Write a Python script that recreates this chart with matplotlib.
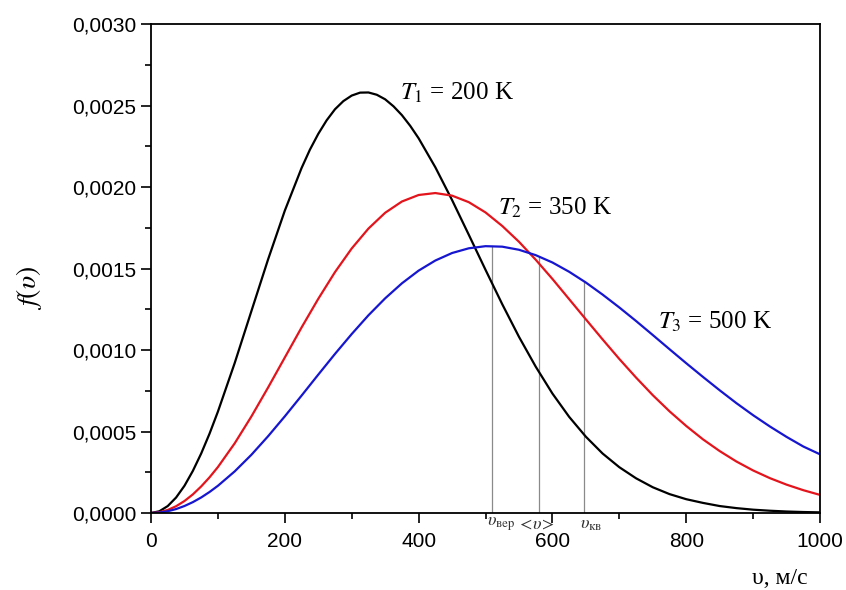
import numpy as np
import matplotlib
matplotlib.use('Agg')
import matplotlib.pyplot as plt
from matplotlib.ticker import FuncFormatter, MultipleLocator

plt.rcParams['font.family'] = ['Liberation Sans', 'DejaVu Sans']
plt.rcParams['mathtext.fontset'] = 'stix'

# speed, m/s (T2, T3 curves)
v = [0, 12.5, 25, 37.5, 50, 62.5, 75, 87.5, 100, 125, 150, 175, 200, 225, 250,
     275, 300, 325, 350, 375, 400, 425, 450, 475, 500, 525, 550, 575, 600,
     625, 650, 675, 700, 725, 750, 775, 800, 825, 850, 875, 900, 925, 950,
     975, 1000]

# speed, m/s (T1 curve, finer around the peak)
v_200 = [0, 12.5, 25, 37.5, 50, 62.5, 75, 87.5, 100, 125, 150, 175, 200, 225,
         237.5, 250, 262.5, 275, 287.5, 300, 312.5, 325, 337.5, 350, 362.5,
         375, 387.5, 400, 425, 450, 475, 500, 525, 550, 575, 600, 625, 650,
         675, 700, 725, 750, 775, 800, 825, 850, 875, 900, 925, 950, 975, 1000]

# f(v) for T1 = 200 K
f_200 = [0, 0.0000107, 0.0000426, 0.000095, 0.000167, 0.000258, 0.000365,
         0.000487, 0.000622, 0.000919, 0.001238, 0.001556, 0.001855, 0.002116,
         0.002229, 0.002326, 0.002409, 0.002477, 0.002527, 0.002561, 0.002579,
         0.002580, 0.002566, 0.002538, 0.002495, 0.002441, 0.002375, 0.002299,
         0.002121, 0.001920, 0.001707, 0.001492, 0.001281, 0.001081, 0.000898,
         0.000733, 0.000590, 0.000468, 0.000365, 0.000281, 0.000213, 0.000158,
         0.000116, 0.0000847, 0.000062, 0.0000427, 0.000030, 0.0000204,
         0.000014, 0.0000092, 0.000006, 0.000004]

# f(v) for T2 = 350 K
f_350 = [0, 0.0000047, 0.0000186, 0.0000416, 0.0000735, 0.000114, 0.000163,
         0.000219, 0.000282, 0.000427, 0.000592, 0.000770, 0.000954, 0.001138,
         0.001314, 0.001478, 0.001623, 0.001745, 0.001842, 0.001911, 0.001951,
         0.001963, 0.001947, 0.001907, 0.001844, 0.001761, 0.001664, 0.001554,
         0.001436, 0.001312, 0.001188, 0.001065, 0.000945, 0.000831, 0.000723,
         0.000624, 0.000534, 0.000452, 0.000380, 0.000316, 0.000261, 0.000214,
         0.000174, 0.000140, 0.000111]

# f(v) for T3 = 500 K
f_500 = [0, 0.0000027, 0.0000108, 0.0000242, 0.0000429, 0.0000666, 0.0000953,
         0.000129, 0.000167, 0.000255, 0.000357, 0.000471, 0.000593, 0.000720,
         0.000849, 0.000976, 0.001098, 0.001213, 0.001317, 0.001409, 0.001487,
         0.001549, 0.001595, 0.001624, 0.001637, 0.001634, 0.001615, 0.001582,
         0.001537, 0.001480, 0.001414, 0.001340, 0.001261, 0.001178, 0.001092,
         0.001005, 0.000919, 0.000835, 0.000753, 0.000674, 0.000600, 0.000531,
         0.000467, 0.000408, 0.000360]

# characteristic speeds for T3 (most probable, mean, rms)
v_marks = [510, 580, 647]
mark_labels = [r'$\upsilon_{\mathrm{вер}}$', r'$<\!\upsilon\!>$', r'$\upsilon_{\mathrm{кв}}$']
mark_label_x = [502, 547, 641]

fig = plt.figure(figsize=(8.46, 5.90), dpi=100)
ax = fig.add_axes([0.1785, 0.1305, 0.7908, 0.8288])

ax.plot(v_200, f_200, color='black', lw=1.6)
ax.plot(v, f_350, color='#e3141c', lw=1.6)
ax.plot(v, f_500, color='#1616d0', lw=1.6)

for vm in v_marks:
    ax.plot([vm, vm], [0, np.interp(vm, v, f_500)], color='#8a8a8a', lw=0.9, zorder=1)

ax.set_xlim(0, 1000)
ax.set_ylim(0, 0.003)
ax.xaxis.set_major_locator(MultipleLocator(200))
ax.xaxis.set_minor_locator(MultipleLocator(100))
ax.yaxis.set_major_locator(MultipleLocator(0.0005))
ax.yaxis.set_minor_locator(MultipleLocator(0.00025))
ax.yaxis.set_major_formatter(FuncFormatter(lambda y, p: ('%.4f' % y).replace('.', ',')))
ax.tick_params(which='both', direction='out', top=False, right=False,
               labelsize=15, width=1.2, colors='black')
ax.tick_params(which='major', length=7)
ax.tick_params(which='minor', length=4)
ax.tick_params(axis='x', pad=7)
for s in ax.spines.values():
    s.set_linewidth(1.3)

serif = ['Liberation Serif', 'DejaVu Serif']
ax.text(372, 0.00258, r'$T_1$ = 200 K', fontsize=18, family=serif, va='center')
ax.text(519, 0.00187, r'$T_2$ = 350 K', fontsize=18, family=serif, va='center')
ax.text(758, 0.00117, r'$T_3$ = 500 K', fontsize=18, family=serif, va='center')

for x, lab in zip(mark_label_x, mark_labels):
    ax.text(x, -0.0000675, lab, fontsize=13, family=serif, ha='left', va='center',
            color='#333333', clip_on=False)

fig.text(0.034, 0.512, r'$f(\upsilon)$', fontsize=20, rotation=90, ha='center', va='center')
fig.text(0.922, 0.02, 'υ, м/с', fontsize=17, family=serif, ha='center', va='center')

fig.savefig('out.png', dpi=100)
